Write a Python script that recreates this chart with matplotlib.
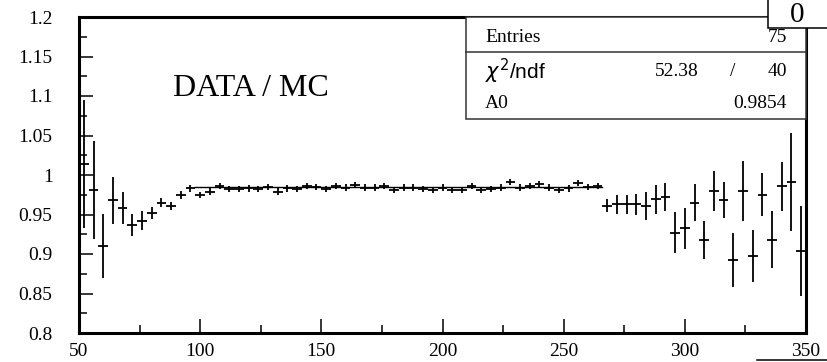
import matplotlib
matplotlib.use("Agg")
import matplotlib.pyplot as plt
from matplotlib.patches import Rectangle
from matplotlib.lines import Line2D
from matplotlib.ticker import MultipleLocator

# ---- data ----
bin_centers = [52, 56, 60, 64, 68, 72, 76, 80, 84, 88, 92, 96, 100, 104, 108,
               112, 116, 120, 124, 128, 132, 136, 140, 144, 148, 152, 156, 160,
               164, 168, 172, 176, 180, 184, 188, 192, 196, 200, 204, 208, 212,
               216, 220, 224, 228, 232, 236, 240, 244, 248, 252, 256, 260, 264,
               268, 272, 276, 280, 284, 288, 292, 296, 300, 304, 308, 312, 316,
               320, 324, 328, 332, 336, 340, 344, 348]
ratio = [1.014, 0.981, 0.910, 0.968, 0.958, 0.937, 0.942, 0.952, 0.965, 0.961,
         0.975, 0.983, 0.975, 0.979, 0.986, 0.982, 0.982, 0.983, 0.982, 0.985,
         0.979, 0.983, 0.982, 0.986, 0.985, 0.982, 0.986, 0.984, 0.987, 0.984,
         0.984, 0.986, 0.981, 0.984, 0.984, 0.982, 0.981, 0.984, 0.981, 0.981,
         0.986, 0.981, 0.982, 0.984, 0.991, 0.984, 0.986, 0.988, 0.984, 0.981,
         0.983, 0.9895, 0.985, 0.9865, 0.961, 0.963, 0.963, 0.963, 0.961, 0.969,
         0.972, 0.927, 0.9325, 0.965, 0.918, 0.980, 0.968, 0.892, 0.980, 0.898,
         0.975, 0.918, 0.986, 0.9915, 0.904]
ratio_err = [0.081, 0.062, 0.041, 0.030, 0.020, 0.014, 0.012, 0.008, 0.006, 0.005,
             0.005, 0.004, 0.004, 0.004, 0.004, 0.004, 0.004, 0.004, 0.004, 0.004,
             0.004, 0.004, 0.004, 0.004, 0.004, 0.004, 0.004, 0.004, 0.004, 0.004,
             0.004, 0.004, 0.004, 0.004, 0.004, 0.004, 0.004, 0.004, 0.004, 0.004,
             0.004, 0.004, 0.004, 0.004, 0.004, 0.004, 0.004, 0.004, 0.004, 0.004,
             0.004, 0.004, 0.004, 0.004, 0.008, 0.012, 0.012, 0.013, 0.018, 0.018,
             0.018, 0.026, 0.026, 0.023, 0.024, 0.025, 0.023, 0.034, 0.038, 0.033,
             0.027, 0.036, 0.031, 0.062, 0.057]
bin_half_width = 2.0
fit_range = [98, 266]
fit_A0 = 0.9854

stats_labels = ["Entries", r"$\chi^{2}$/ndf", "A0"]
entries_value = "75"
chi2_value = "52.38"
ndf_value = "40"
a0_value = "0.9854"

W, H = 827, 362
fig = plt.figure(figsize=(W / 100, H / 100), dpi=100)

def fx(px):
    return px / W

def fy(py):
    return 1 - py / H

ax = fig.add_axes([fx(79), fy(333), fx(806) - fx(79), fy(17) - fy(333)])
ax.set_xlim(50, 350)
ax.set_ylim(0.8, 1.2)

ax.errorbar(bin_centers, ratio, yerr=ratio_err, xerr=bin_half_width,
            fmt='none', ecolor='black', elinewidth=1.3, capsize=0)
ax.plot(fit_range, [fit_A0, fit_A0], color='black', lw=1.0)

for s in ax.spines.values():
    s.set_linewidth(2.2)

ax.xaxis.set_major_locator(MultipleLocator(50))
ax.xaxis.set_minor_locator(MultipleLocator(25))
ax.yaxis.set_major_locator(MultipleLocator(0.05))
ax.yaxis.set_minor_locator(MultipleLocator(0.025))
ax.tick_params(which='both', direction='in', top=False, right=False, width=1.1)
ax.tick_params(which='major', length=10)
ax.tick_params(which='minor', length=5.5)
ax.tick_params(axis='y', which='major', pad=19)
ax.tick_params(axis='x', which='major', pad=7)

ax.set_yticks([0.8, 0.85, 0.9, 0.95, 1.0, 1.05, 1.1, 1.15, 1.2])
ax.set_yticklabels(["0.8", "0.85", "0.9", "0.95", "1", "1.05", "1.1", "1.15", "1.2"])
for lab in ax.get_xticklabels() + ax.get_yticklabels():
    lab.set_fontfamily('Liberation Serif')
    lab.set_fontsize(14)

ax.text(fx(173), fy(88), "DATA / MC", transform=fig.transFigure,
        fontsize=23, family='Liberation Serif', va='center', ha='left')

# stats box
box = Rectangle((fx(466), fy(119)), fx(806) - fx(466), fy(17) - fy(119),
                transform=fig.transFigure, facecolor='white', edgecolor='#333333',
                lw=1.1, zorder=5)
fig.add_artist(box)
fig.add_artist(Line2D([fx(466), fx(806)], [fy(52), fy(52)], color='#333333',
                      lw=1.1, zorder=6))
sfont = dict(fontsize=14, family='Liberation Serif', zorder=7, va='center')
fig.text(fx(485), fy(38), stats_labels[0], ha='left', **sfont)
fig.text(fx(787), fy(38), entries_value, ha='right', **sfont)
fig.text(fx(485), fy(71), stats_labels[1], ha='left', fontsize=15,
         family='Liberation Sans', zorder=7, va='center')
fig.text(fx(699), fy(72), chi2_value, ha='right', **sfont)
fig.text(fx(733), fy(72), "/", ha='center', **sfont)
fig.text(fx(787), fy(72), ndf_value, ha='right', **sfont)
fig.text(fx(485), fy(104), stats_labels[2], ha='left', **sfont)
fig.text(fx(787), fy(104), a0_value, ha='right', **sfont)

# pieces of neighbouring page content at the corners
corner = Rectangle((fx(768), fy(28)), 0.2, 0.2, transform=fig.transFigure,
                   facecolor='white', edgecolor='black', lw=1.1, zorder=10)
fig.add_artist(corner)
fig.text(fx(797), fy(22), "0", ha='center', va='baseline', fontsize=21,
         family='Liberation Serif', zorder=11)
fig.add_artist(Line2D([fx(757), 1.0], [fy(360), fy(360)], color='black', lw=1.1))

fig.savefig("out.png", dpi=100)
